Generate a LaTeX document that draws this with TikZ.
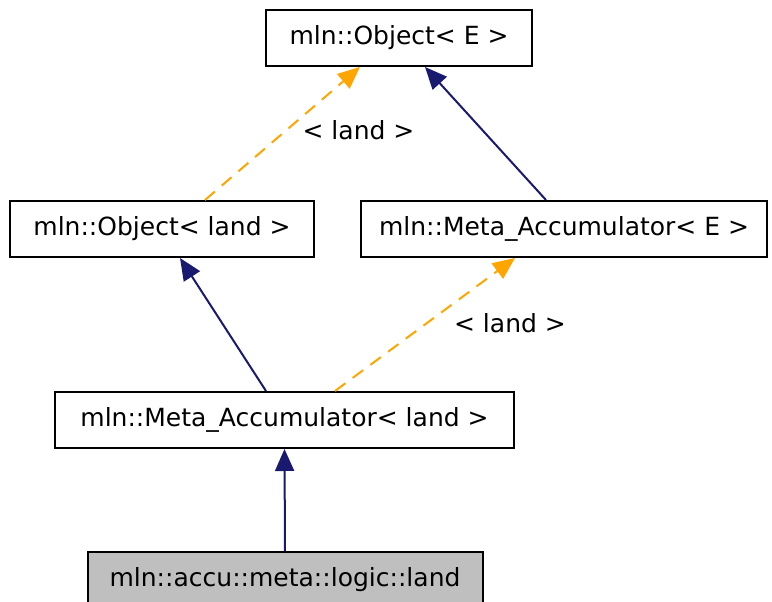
\documentclass[tikz,border=0pt]{standalone}
\usepackage{fontspec}
\setmainfont{DejaVu Sans}
\usetikzlibrary{arrows.meta}
\definecolor{edgeblue}{HTML}{191970}
\definecolor{edgeorange}{HTML}{FFA500}
\definecolor{boxgray}{HTML}{BFBFBF}
\begin{document}
\begin{tikzpicture}[x=1pt,y=-1pt,
  cls/.style={draw=black, line width=2pt, rectangle, minimum height=56pt, inner sep=0pt, font=\fontsize{25}{30}\selectfont},
  inh/.style={draw=edgeblue, line width=2pt, -{Triangle[length=22pt,width=19pt]}, fill=none},
  tmpl/.style={draw=edgeorange, line width=2pt, dash pattern=on 13pt off 9pt, -{Triangle[length=22pt,width=19pt]}},
  lbl/.style={font=\fontsize{25}{30}\selectfont, inner sep=0pt}]
\useasboundingbox (0,0) rectangle (772,602);
\node[cls, minimum width=266pt] (oe) at (399,38) {mln::Object< E >};
\node[cls, minimum width=304pt] (ol) at (162,229) {mln::Object< land >};
\node[cls, minimum width=406pt] (mae) at (564,229) {mln::Meta\_Accumulator< E >};
\node[cls, minimum width=459pt] (mal) at (284.5,420) {mln::Meta\_Accumulator< land >};
\node[cls, minimum width=395pt, fill=boxgray] (land) at (285,580) {mln::accu::meta::logic::land};
\draw[tmpl] ([xshift=43pt]ol.north) -- ([xshift=-39pt]oe.south) node[lbl, pos=0.5, xshift=76pt, yshift=3pt] (l1) {< land >};
\draw[inh] ([xshift=-18pt]mae.north) -- ([xshift=26pt]oe.south);
\draw[inh] ([xshift=-18.5pt]mal.north) -- ([xshift=18pt]ol.south);
\draw[tmpl] ([xshift=50.5pt]mal.north) -- ([xshift=-49pt]mae.south) node[lbl, pos=0.5, xshift=85pt, yshift=1pt] (l2) {< land >};
\draw[inh] (land.north) -- (mal.south);
\end{tikzpicture}
\end{document}
